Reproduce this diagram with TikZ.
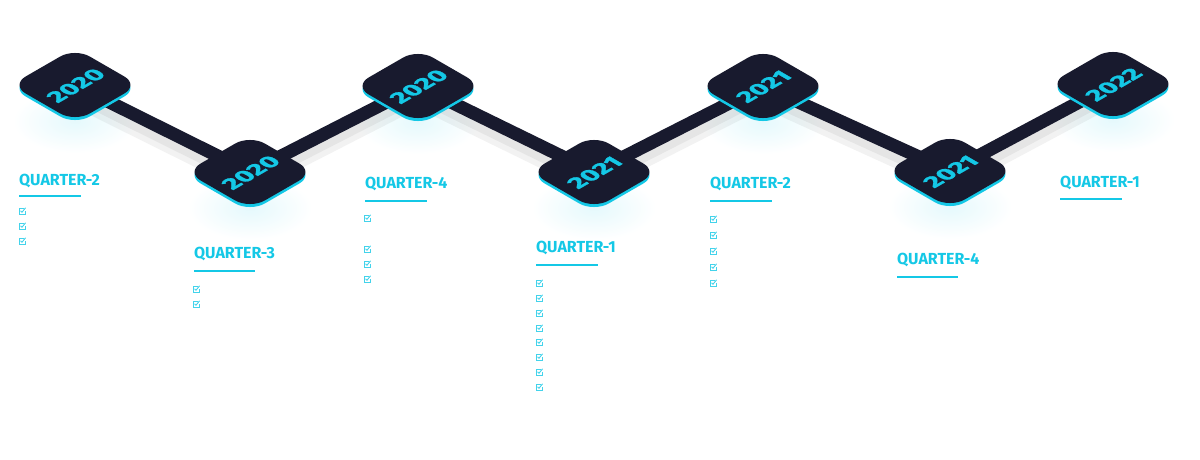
\documentclass[tikz,border=0pt]{standalone}
\usepackage{fontspec}
\setmainfont{Fira Sans}
\newfontfamily\yearfont{Fira Sans}[BoldFeatures={FakeBold=1.3}]
\definecolor{navy}{HTML}{181A2E}
\definecolor{cyanc}{HTML}{14C8E6}
\tikzset{
  tiletop/.style={fill=navy, rounded corners=17pt},
  tileside/.style={fill=cyanc, rounded corners=17pt},
  yeartext/.style={text=cyanc, font=\yearfont\bfseries\fontsize{22}{22}\selectfont, inner sep=0pt, xscale=1.18},
  qlabel/.style={text=cyanc, font=\bfseries\fontsize{16}{16}\selectfont, anchor=base west, inner sep=0pt},
  uline/.style={draw=cyanc, line width=2pt},
  link/.style={draw=navy, line width=13pt},
  linkshadow/.style={draw=black, line width=#1, opacity=0.05},
  glow/.style={inner color=cyanc!11, outer color=white},
  pics/chk/.style={code={
    \draw[cyanc!80, line width=0.9pt] (1.5,3) -- (-3,3) -- (-3,-3) -- (3,-3) -- (3,0);
    \draw[cyanc!80, line width=0.9pt] (-1.5,0.2) -- (0,-1.2) -- (3.6,3.2);
  }}
}
\newcommand\tiletop[4]{%
  \begin{scope}[transform canvas={shift={(#2,#3-3)}, cm={0.866,0.5,-0.866,0.5,(0,0)}}]
    \fill[tileside] (-37,-37) rectangle (37,37);
  \end{scope}
  \begin{scope}[transform canvas={shift={(#2,#3)}, cm={0.866,0.5,-0.866,0.5,(0,0)}}]
    \fill[tiletop] (-37,-37) rectangle (37,37);
    \node[yeartext] (#1y) at (0,-1) {#4};
  \end{scope}}
\begin{document}
\begin{tikzpicture}[x=1pt,y=1pt]
\useasboundingbox (0,0) rectangle (1200,-460);
\fill[white] (0,0) rectangle (1200,-460);
% tile centres
\coordinate (t1) at (75,-85);
\coordinate (t2) at (250,-172);
\coordinate (t3) at (418,-86);
\coordinate (t4) at (594,-172);
\coordinate (t5) at (763,-86);
\coordinate (t6) at (950,-171);
\coordinate (t7) at (1113,-84);
% glows
\foreach \p in {t1,t2,t3,t4,t5,t6,t7}{
  \shade[glow] ([yshift=-36pt]\p) ellipse (62 and 32);
}
% connector shadows
\foreach \a/\b in {t1/t2,t2/t3,t3/t4,t4/t5,t5/t6,t6/t7}{
  \draw[linkshadow=24pt] ([yshift=-9pt]\a) -- ([yshift=-9pt]\b);
  \draw[linkshadow=18pt] ([yshift=-6pt]\a) -- ([yshift=-6pt]\b);
}
% connectors
\draw[link] (t1) -- (t2) -- (t3) -- (t4) -- (t5) -- (t6) -- (t7);
% tiles
\tiletop{t1}{75}{-85}{2020}
\tiletop{t2}{250}{-172}{2020}
\tiletop{t3}{418}{-86}{2020}
\tiletop{t4}{594}{-172}{2021}
\tiletop{t5}{763}{-86}{2021}
\tiletop{t6}{950}{-171}{2021}
\tiletop{t7}{1113}{-84}{2022}
% labels
\node[qlabel] (qa) at (19,-185) {QUARTER-2};
\draw[uline] (19,-196) -- (81,-196);
\foreach \y in {211,226,241} \pic at (22,-\y) {chk};

\node[qlabel] (qb) at (194,-258) {QUARTER-3};
\draw[uline] (194,-271) -- (255,-271);
\foreach \y in {289,304} \pic at (196,-\y) {chk};

\node[qlabel] (qc) at (365,-188) {QUARTER-4};
\draw[uline] (365,-201) -- (427,-201);
\foreach \y in {218,249,264,279} \pic at (367,-\y) {chk};

\node[qlabel] (qd) at (536,-252) {QUARTER-1};
\draw[uline] (536,-265) -- (598,-265);
\foreach \y in {283,298,313,328,342,357,372,387} \pic at (539,-\y) {chk};

\node[qlabel] (qe) at (710,-188) {QUARTER-2};
\draw[uline] (710,-201) -- (772,-201);
\foreach \y in {219,235,251,267,283} \pic at (713,-\y) {chk};

\node[qlabel] (qf) at (897,-264) {QUARTER-4};
\draw[uline] (897,-277) -- (958,-277);

\node[qlabel] (qg) at (1060,-187) {QUARTER-1};
\draw[uline] (1060,-199) -- (1122,-199);
\end{tikzpicture}
\end{document}
